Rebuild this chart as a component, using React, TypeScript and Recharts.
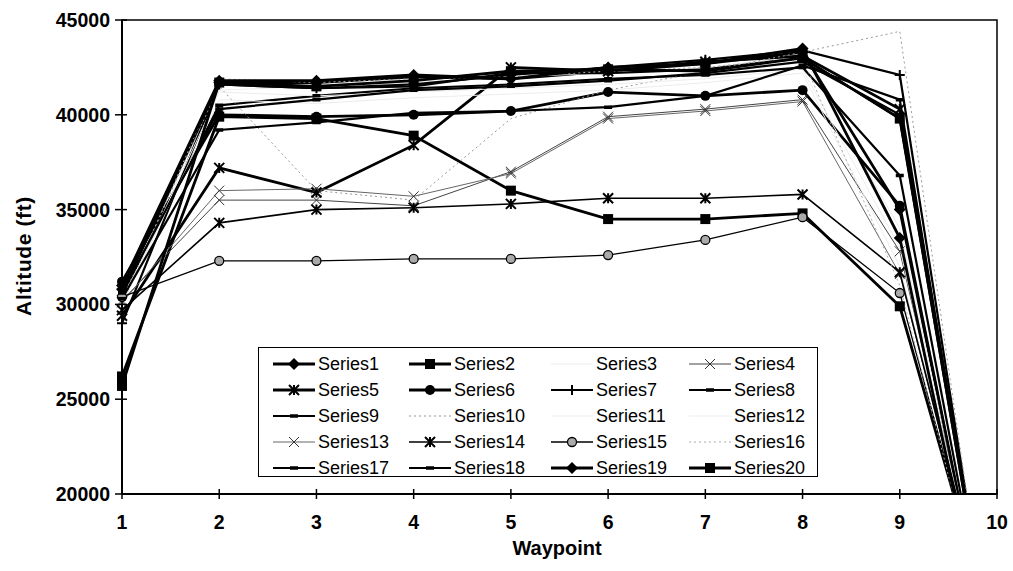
import { LineChart, Line, XAxis, YAxis, Legend, ReferenceArea } from "recharts";

const FONT = '"Liberation Sans", Arial, sans-serif';

const waypoints = [1, 2, 3, 4, 5, 6, 7, 8, 9, 10];
const yTicks = [20000, 25000, 30000, 35000, 40000, 45000];

// altitude per waypoint
const s1 = [30800, 41700, 41700, 42000, 41900, 42300, 42700, 43300, 35000, 9800];
const s2 = [26200, 39900, 39800, 38900, 36000, 34500, 34500, 34800, 29900, 12000];
const s3 = [30000, 41300, 41500, 41700, 42000, 42200, 42500, 43100, 34000, 10500];
const s4 = [30200, 35500, 35500, 35200, 37000, 39900, 40300, 40800, 32800, 11000];
const s5 = [29400, 37200, 35900, 38400, 42500, 42300, 42800, 43100, 40300, 10000];
const s6 = [31200, 40000, 39900, 40000, 40200, 41200, 41000, 41300, 35200, 9800];
const s7 = [29000, 41600, 41400, 41600, 42100, 42500, 42900, 43400, 42100, 9600];
const s8 = [30600, 41600, 41400, 41500, 42200, 42200, 42400, 43000, 39800, 9800];
const s9 = [30500, 40500, 41000, 41400, 41600, 41900, 42100, 42500, 36800, 10000];
const s10 = [30300, 41500, 36000, 35500, 39800, 41300, 42300, 43300, 44400, 9000];
const s11 = [30100, 41200, 41000, 41200, 41400, 41600, 41900, 42400, 33000, 10800];
const s12 = [30000, 40800, 40600, 40900, 41100, 41300, 41700, 42200, 32000, 11200];
const s13 = [30100, 36000, 36100, 35700, 36900, 39800, 40200, 40700, 31600, 11500];
const s14 = [29700, 34300, 35000, 35100, 35300, 35600, 35600, 35800, 31700, 11500];
const s15 = [30400, 32300, 32300, 32400, 32400, 32600, 33400, 34600, 30600, 11800];
const s16 = [30000, 41900, 41700, 41900, 42000, 42300, 42500, 43000, 31000, 11000];
const s17 = [30600, 40300, 40800, 41300, 41500, 41800, 42200, 42800, 40000, 10000];
const s18 = [30300, 39200, 39600, 40100, 40200, 40400, 41000, 42600, 40800, 9500];
const s19 = [31000, 41800, 41800, 42100, 41900, 42500, 42700, 43500, 33500, 9400];
const s20 = [25700, 41700, 41500, 41800, 42300, 42400, 42300, 43000, 39800, 10000];

const values = [s1, s2, s3, s4, s5, s6, s7, s8, s9, s10, s11, s12, s13, s14, s15, s16, s17, s18, s19, s20];

type Style = { shape: string; stroke: string; width: number; dash?: string };

const styles: Style[] = [
  { shape: "diamond", stroke: "#000", width: 2.8 },
  { shape: "square", stroke: "#000", width: 2.8 },
  { shape: "none", stroke: "#ececec", width: 1 },
  { shape: "x", stroke: "#444", width: 1 },
  { shape: "star", stroke: "#000", width: 2.8 },
  { shape: "circle", stroke: "#000", width: 2.8 },
  { shape: "plus", stroke: "#000", width: 2.2 },
  { shape: "dash", stroke: "#000", width: 2.2 },
  { shape: "dash", stroke: "#000", width: 2.2 },
  { shape: "none", stroke: "#999", width: 1, dash: "2 3" },
  { shape: "none", stroke: "#ececec", width: 1 },
  { shape: "none", stroke: "#ececec", width: 1 },
  { shape: "x", stroke: "#666", width: 1 },
  { shape: "star", stroke: "#000", width: 1.6 },
  { shape: "hatch", stroke: "#000", width: 1.3 },
  { shape: "none", stroke: "#aaa", width: 1, dash: "2 3" },
  { shape: "dash", stroke: "#000", width: 2.2 },
  { shape: "dash", stroke: "#000", width: 2.2 },
  { shape: "diamond", stroke: "#000", width: 2.8 },
  { shape: "square", stroke: "#000", width: 2.8 },
];

const names = values.map((_, i) => `Series${i + 1}`);

const rows = waypoints.map((wp, i) => {
  const r: Record<string, number> = { wp };
  values.forEach((v, j) => (r[names[j]] = v[i]));
  return r;
});

function Mark({ shape, cx, cy, s = 5 }: { shape: string; cx: number; cy: number; s?: number }) {
  if (cx == null || cy == null) return null;
  switch (shape) {
    case "diamond":
      return <polygon points={`${cx},${cy - s - 1} ${cx + s + 1},${cy} ${cx},${cy + s + 1} ${cx - s - 1},${cy}`} fill="#000" />;
    case "square":
      return <rect x={cx - s} y={cy - s} width={2 * s} height={2 * s} fill="#000" />;
    case "circle":
      return <circle cx={cx} cy={cy} r={s} fill="#000" />;
    case "hatch":
      return <circle cx={cx} cy={cy} r={s - 0.5} fill="#aaa" stroke="#000" strokeWidth={1.3} />;
    case "x":
      return (
        <path d={`M${cx - s},${cy - s}L${cx + s},${cy + s}M${cx - s},${cy + s}L${cx + s},${cy - s}`} stroke="#333" strokeWidth={1} />
      );
    case "star":
      return (
        <path
          d={`M${cx - s},${cy - s}L${cx + s},${cy + s}M${cx - s},${cy + s}L${cx + s},${cy - s}M${cx},${cy - s}V${cy + s}`}
          stroke="#000"
          strokeWidth={2}
        />
      );
    case "plus":
      return <path d={`M${cx - s},${cy}H${cx + s}M${cx},${cy - s}V${cy + s}`} stroke="#000" strokeWidth={2} />;
    case "dash":
      return <path d={`M${cx - 4},${cy}H${cx + 4}`} stroke="#000" strokeWidth={3.5} />;
    default:
      return null;
  }
}

const XTick = ({ x, y, payload }: any) => (
  <g>
    <line x1={x} x2={x} y1={y - 5} y2={y + 5} stroke="#000" strokeWidth={1.5} />
    <text x={x} y={y + 35} textAnchor="middle" fontFamily={FONT} fontWeight="bold" fontSize={19.5} fill="#000">
      {payload.value}
    </text>
  </g>
);

const YTick = ({ x, y, payload }: any) => (
  <g>
    <line x1={x - 7} x2={x + 5} y1={y} y2={y} stroke="#000" strokeWidth={1.5} />
    <text x={x - 12} y={y + 7} textAnchor="end" fontFamily={FONT} fontWeight="bold" fontSize={19.5} fill="#000">
      {payload.value}
    </text>
  </g>
);

const YLabel = () => (
  <text
    x={31}
    y={256}
    transform="rotate(-90 31 256)"
    textAnchor="middle"
    fontFamily={FONT}
    fontWeight="bold"
    fontSize={21}
    letterSpacing={0.6}
    fill="#000"
  >
    Altitude (ft)
  </text>
);

const XLabel = () => (
  <text x={557} y={555} textAnchor="middle" fontFamily={FONT} fontWeight="bold" fontSize={20} fill="#000">
    Waypoint
  </text>
);

const LegendBox = () => (
  <div
    style={{
      width: 560,
      height: 130,
      boxSizing: "border-box",
      border: "1.5px solid #000",
      background: "#fff",
      display: "grid",
      gridTemplateColumns: "136px 142px 138px 1fr",
      gridAutoRows: "26px",
      padding: "3px 0 0 14px",
      fontFamily: FONT,
      fontSize: 18,
      color: "#000",
    }}
  >
    {names.map((n, i) => {
      const st = styles[i];
      return (
        <div key={n} style={{ display: "flex", alignItems: "center" }}>
          <svg width={42} height={16} style={{ overflow: "visible" }}>
            <line x1={0} x2={42} y1={8} y2={8} stroke={st.stroke} strokeWidth={st.width} strokeDasharray={st.dash} />
            <Mark shape={st.shape} cx={21} cy={8} />
          </svg>
          <span style={{ marginLeft: 3 }}>{n}</span>
        </div>
      );
    })}
  </div>
);

export default function App() {
  return (
    <div style={{ position: "absolute", left: 0, top: 0, background: "#fff" }}>
      <LineChart width={1013} height={571} data={rows} margin={{ top: 20, right: 16, left: 0, bottom: 0 }}>
        <XAxis
          type="number"
          dataKey="wp"
          domain={[1, 10]}
          ticks={waypoints}
          height={77}
          tickSize={0}
          tickMargin={0}
          tickLine={false}
          axisLine={{ stroke: "#000", strokeWidth: 2 }}
          tick={XTick}
          label={<XLabel />}
        />
        <YAxis
          type="number"
          domain={[20000, 45000]}
          ticks={yTicks}
          allowDataOverflow
          width={122}
          tickSize={0}
          tickMargin={0}
          tickLine={false}
          axisLine={{ stroke: "#000", strokeWidth: 2 }}
          tick={YTick}
          label={<YLabel />}
        />
        <ReferenceArea x1={1} x2={10} y1={20000} y2={45000} fill="none" stroke="#000" strokeWidth={1.5} ifOverflow="visible" />
        {names.map((n, i) => {
          const st = styles[i];
          return (
            <Line
              key={n}
              dataKey={n}
              type="linear"
              stroke={st.stroke}
              strokeWidth={st.width}
              strokeDasharray={st.dash}
              isAnimationActive={false}
              dot={
                st.shape === "none"
                  ? false
                  : (p: any) => (
                      <g key={`${n}-${p.index}`}>
                        <Mark shape={st.shape} cx={p.cx} cy={p.cy} />
                      </g>
                    )
              }
              activeDot={false}
            />
          );
        })}
        <Legend
          layout="horizontal"
          verticalAlign="middle"
          align="center"
          content={<LegendBox />}
          wrapperStyle={{ left: 258, top: 347, width: 560, height: 130 }}
        />
      </LineChart>
    </div>
  );
}
